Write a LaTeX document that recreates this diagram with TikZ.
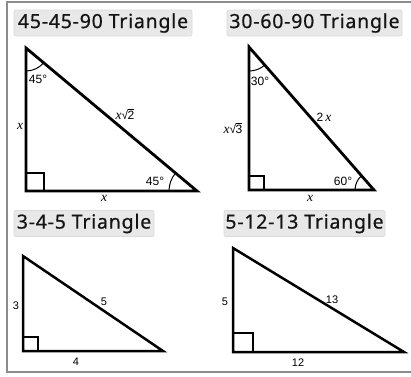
\documentclass[tikz,border=0pt]{standalone}
\usepackage{fontspec}
\setmainfont{Liberation Sans}
\newfontfamily\titlefont[LetterSpace=4,FakeBold=0.6]{Noto Sans}
\newfontfamily\seriffont{Liberation Serif}
\usetikzlibrary{angles}
\newcommand{\vx}{{\seriffont\itshape\fontsize{13.5}{13.5}\selectfont x}}
\newcommand{\rootof}[1]{√\kern-0.6pt$\overline{\hbox{#1}}$}
\begin{document}
\begin{tikzpicture}[x=1pt,y=-1pt,
  titlebox/.style={fill=black!9, draw=black!14, line width=0.8pt, rounded corners=2pt, inner sep=0pt,
    minimum height=26pt, font=\titlefont\fontsize{19.5}{20}\selectfont, text=black!92},
  tri/.style={line width=2.8pt, line join=miter},
  sqbox/.style={line width=1.7pt},
  lab/.style={font=\fontsize{12}{12}\selectfont, inner sep=0pt},
  labs/.style={font=\fontsize{11}{11}\selectfont, inner sep=0pt},
  arcpic/.style={draw, line width=1pt, angle radius=#1}
]
\useasboundingbox (0,0) rectangle (411,376);
\fill[white] (0,0) rectangle (411,376);
% frame
\draw[black!45, line width=1.5pt] (415,2) -- (7,2) -- (7,372) -- (415,372);

% titles
\node[titlebox, minimum width=178pt] (t1) at (103,23) {45-45-90 Triangle};
\node[titlebox, minimum width=175pt] (t2) at (314.5,23) {30-60-90 Triangle};
\node[titlebox, minimum width=140pt] (t3) at (84,223.5) {3-4-5 Triangle};
\node[titlebox, minimum width=161pt] (t4) at (304.5,223.5) {5-12-13 Triangle};

% triangle 1
\coordinate (a1) at (26,48);
\coordinate (b1) at (26,191);
\coordinate (c1) at (197,191);
\draw[sqbox] (26,173) rectangle (44,191);
\draw[tri] (a1) -- (b1) -- (c1) -- cycle;
\pic[arcpic=23pt] {angle=b1--a1--c1};
\pic[arcpic=28pt] {angle=a1--c1--b1};
\node[lab] (l1a) at (38,79) {45°};
\node[lab] (l1b) at (155,181) {45°};
\node[lab] (l1c) at (125,114) {\vx\rootof{2}};
\node[lab] (l1d) at (20,126) {\vx};
\node[lab] (l1e) at (104,198) {\vx};

% triangle 2
\coordinate (a2) at (249,47);
\coordinate (b2) at (249,190);
\coordinate (c2) at (374,190);
\draw[sqbox] (249,176) rectangle (264,190);
\draw[tri] (a2) -- (b2) -- (c2) -- cycle;
\pic[arcpic=24pt] {angle=b2--a2--c2};
\pic[arcpic=19pt] {angle=a2--c2--b2};
\node[lab] (l2a) at (260,81) {30°};
\node[lab] (l2b) at (343,181) {60°};
\node[lab] (l2c) at (324,117) {2\,\vx};
\node[lab] (l2d) at (233,128) {\vx\rootof{3}};
\node[lab] (l2e) at (310,198) {\vx};

% triangle 3
\coordinate (a3) at (23,256);
\coordinate (b3) at (23,351);
\coordinate (c3) at (163,351);
\draw[sqbox] (23,337) rectangle (38,351);
\draw[tri, line width=2.5pt] (a3) -- (b3) -- (c3) -- cycle;
\node[labs] (l3a) at (16,306) {3};
\node[labs] (l3b) at (104,302) {5};
\node[labs] (l3c) at (76,362) {4};

% triangle 4
\coordinate (a4) at (233,248);
\coordinate (b4) at (233,352);
\coordinate (c4) at (404,352);
\draw[sqbox] (233,333) rectangle (253,352);
\draw[tri, line width=2.5pt] (a4) -- (b4) -- (c4) -- cycle;
\node[labs] (l4a) at (225,302) {5};
\node[labs] (l4b) at (332,300) {13};
\node[labs] (l4c) at (298,363) {12};
\end{tikzpicture}
\end{document}
